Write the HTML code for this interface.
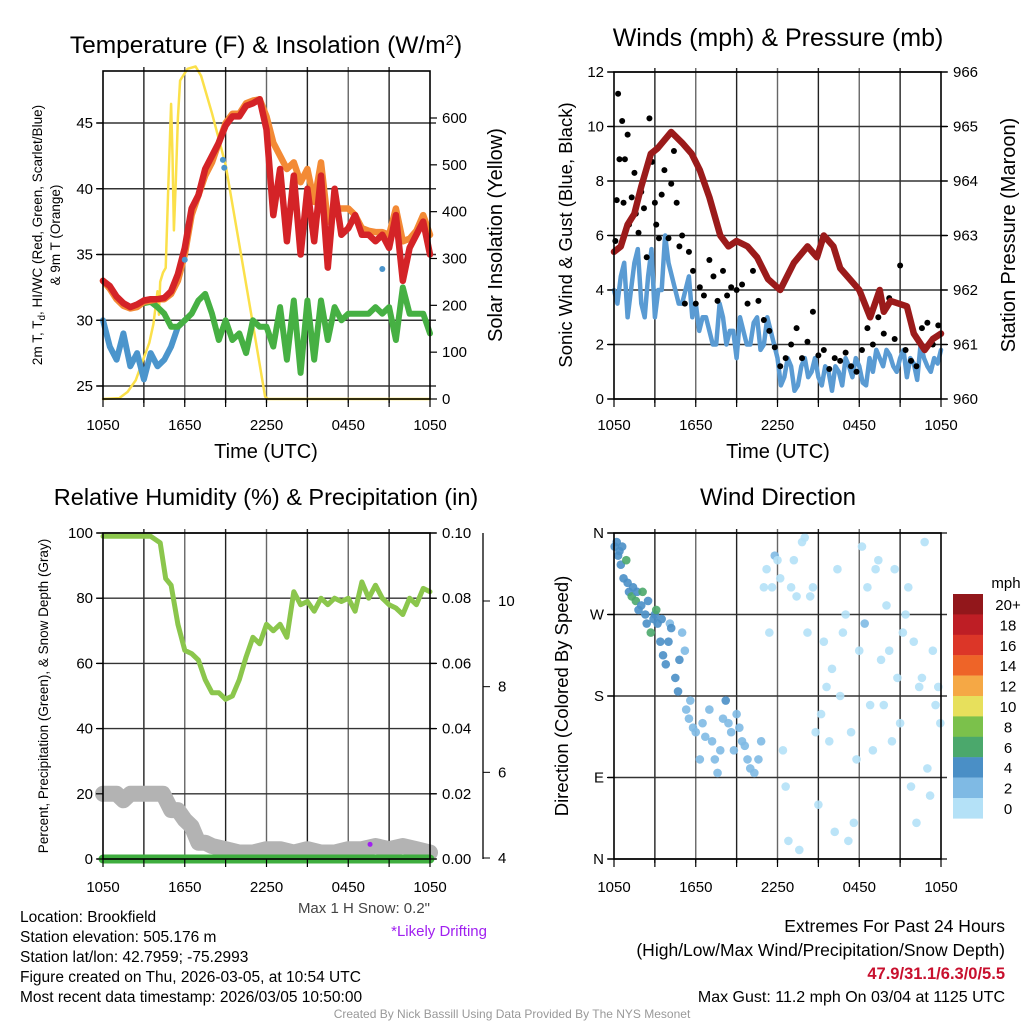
<!DOCTYPE html>
<html><head><meta charset="utf-8"><style>
html,body{margin:0;padding:0;background:#fff;}
svg text{font-family:"Liberation Sans",sans-serif;}
</style></head><body>
<svg id="svg" width="1024" height="1024" viewBox="0 0 1024 1024" xmlns="http://www.w3.org/2000/svg">
<rect width="1024" height="1024" fill="#fff"/>
<g id="bg"></g>
<g id="marks"></g>
<g id="axes"></g>
<text x="266" y="53" font-size="24.5" text-anchor="middle">Temperature (F) &amp; Insolation (W/m<tspan dy="-8" font-size="15">2</tspan><tspan dy="8">)</tspan></text>
<text x="778" y="46" font-size="25" text-anchor="middle">Winds (mph) &amp; Pressure (mb)</text>
<text x="266" y="505" font-size="23.5" text-anchor="middle">Relative Humidity (%) &amp; Precipitation (in)</text>
<text x="778" y="505" font-size="24" text-anchor="middle">Wind Direction</text>
<text transform="translate(42,235) rotate(-90)" font-size="13.5" text-anchor="middle">2m T, T<tspan font-size="10" dy="3">d</tspan><tspan dy="-3">, HI/WC (Red, Green, Scarlet/Blue)</tspan></text>
<text transform="translate(60,235) rotate(-90)" font-size="13.5" text-anchor="middle">&amp; 9m T (Orange)</text>
<text transform="translate(502,235) rotate(-90)" font-size="20" text-anchor="middle">Solar Insolation (Yellow)</text>
<text x="266" y="458" font-size="20" text-anchor="middle">Time (UTC)</text>
<text transform="translate(572,235) rotate(-90)" font-size="18.5" text-anchor="middle">Sonic Wind &amp; Gust (Blue, Black)</text>
<text transform="translate(1015,235) rotate(-90)" font-size="20" text-anchor="middle">Station Pressure (Maroon)</text>
<text x="778" y="458" font-size="20" text-anchor="middle">Time (UTC)</text>
<text transform="translate(48,696) rotate(-90)" font-size="13.5" text-anchor="middle">Percent, Precipitation (Green), &amp; Snow Depth (Gray)</text>
<text transform="translate(568,696) rotate(-90)" font-size="18.5" text-anchor="middle">Direction (Colored By Speed)</text>
<text x="430" y="913" font-size="15" text-anchor="end" fill="#444">Max 1 H Snow: 0.2"</text>
<text x="487" y="936" font-size="15" text-anchor="end" fill="#a020f0">*Likely Drifting</text>
<g font-size="15.5">
<text x="20" y="922">Location: Brookfield</text>
<text x="20" y="942">Station elevation: 505.176 m</text>
<text x="20" y="962">Station lat/lon: 42.7959; -75.2993</text>
<text x="20" y="982">Figure created on Thu, 2026-03-05, at 10:54 UTC</text>
<text x="20" y="1002">Most recent data timestamp: 2026/03/05 10:50:00</text>
</g>
<g font-size="17.5" text-anchor="end">
<text x="1005" y="932">Extremes For Past 24 Hours</text>
<text x="1005" y="956">(High/Low/Max Wind/Precipitation/Snow Depth)</text>
<text x="1005" y="979" fill="#c8102e" font-weight="bold" font-size="16.5">47.9/31.1/6.3/0/5.5</text>
<text x="1005" y="1002" font-size="16">Max Gust: 11.2 mph On 03/04 at 1125 UTC</text>
</g>
<text x="512" y="1018" font-size="12" text-anchor="middle" fill="#999">Created By Nick Bassill Using Data Provided By The NYS Mesonet</text>
<text x="1006" y="588" font-size="15" text-anchor="middle">mph</text>
<g id="legend"></g>
</svg>
<script>
// ---- data ----
const halfHours = Array.from({length:49},(_,i)=>i*0.5);
const tempRed = [33.0,32.6,31.8,31.3,31.0,31.2,31.5,31.6,31.6,31.7,32.2,33.5,35.5,38.5,39.5,41.5,42.5,43.5,44.8,45.5,45.5,46.3,46.5,46.8,44.5,38,41.5,36,41,35,40,36,41,34,40,36.5,37,38,36.5,36.5,36,36.5,35.5,38,33,35.5,36.5,37.5,35];
const temp9m  = [33.0,32.4,31.6,31.1,30.9,31.0,31.4,31.5,31.6,31.6,32.0,33.0,35.0,38.0,39.5,41.0,42.0,43.5,45.0,45.7,45.7,46.5,46.7,46.8,45.5,43.5,42.5,41.5,42,40.5,41.5,39,42,37.5,38.5,38.5,38.5,38,37,36.8,36.7,36.7,36.5,38.5,36,36.2,36.8,38,36.5];
const dewGreen = [33,32.5,31.8,31.2,31.0,31.2,31.3,31.4,31.0,30.5,29.5,29.5,30,30.5,31.5,32,30.5,28.5,30,28.5,29,27.5,30,29.5,29.5,28,31,27,31.5,26,31.5,27,31.5,28.5,31,30,30.5,30.5,30.5,30.5,31,30.5,31,28.5,32.5,30.5,30.5,30.5,29];
const windChillBlue = [30,28,27,29,26.5,27.5,25.5,27.5,26.5,27,28,29.5,30];
const insTimes = [0,1.2,1.8,2.4,2.9,3.4,3.7,4.0,4.1,4.2,4.4,4.6,4.8,5.0,5.1,5.2,5.35,5.5,5.66,6.2,6.8,7.2,8,9,10,11,11.9,12.1,24];
const insVals  = [0,2,15,40,80,120,160,230,180,250,270,280,460,630,520,360,470,600,680,705,710,690,610,500,330,160,5,0,0];
const sonicWind = [4,4.5,3,5,3.5,4.5,3,4,5,4,3.5,4.5,3.5,3,2.5,2,3,2.5,1.5,2.5,2,3,2,2.5,1.5,0.8,1.2,0.5,1.5,1,0.8,1.2,0.3,1,1.5,0.8,1.2,0.5,1,1.5,1.8,1.2,1.5,0.8,1.3,2,1.2,1.5,1.8];
const sonicWindMid = [3.5,5,4,5.5,3,5.5,4,6,4.5,3.5,4,3,2.5,3,2,3.5,2,2.5,3,2,2.8,1.8,3,2,0.5,1.5,0.3,1.2,0.8,1.5,0.5,1,1.2,0.5,1.2,1.5,0.6,1.5,1.8,1.2,1.6,1,1.8,1.5,0.7,1.5,1,1.3];
const gustT = [0.1,0.2,0.3,0.4,0.6,0.7,0.8,1.0,1.1,1.3,1.5,1.6,1.8,2.0,2.2,2.4,2.6,2.8,3.0,3.1,3.3,3.5,3.7,4.0,4.2,4.4,4.6,4.8,5.0,5.2,5.5,5.8,6.0,6.3,6.6,7.0,7.3,7.6,8.0,8.3,8.6,9.0,9.4,9.8,10.2,10.6,11.0,11.4,11.8,12.2,12.6,13.0,13.4,13.8,14.2,14.6,15.0,15.4,15.8,16.2,16.6,17.0,17.4,17.8,18.2,18.6,19.0,19.4,19.8,20.2,20.6,21.0,21.4,21.8,22.2,22.6,23.0,23.4,23.8];
const gustV = [5.8,7.3,11.2,8.8,10.2,7.2,8.8,9.7,6.4,7.4,8.3,6.8,6.1,7.6,7.0,5.2,10.3,8.7,7.2,6.4,5.9,7.5,8.4,5.9,7.9,9.1,7.2,5.6,6.0,3.5,5.4,4.7,3.5,4.1,3.8,5.1,4.5,3.6,4.7,3.8,4.1,4.0,4.2,3.5,4.7,3.6,2.9,2.5,1.9,1.2,1.5,2.0,2.6,1.5,2.1,3.2,1.6,1.8,1.1,1.5,1.4,1.7,1.2,1.0,1.8,2.6,2.0,3.0,2.4,3.7,2.2,4.9,1.8,1.4,1.2,2.6,2.8,2.0,2.7];
const presT = [0,0.5,1,1.5,2,2.7,3.2,4.2,5,5.7,6.3,7,7.8,8.4,9,9.8,10.5,11.3,12.2,13.2,14.2,14.9,15.4,16.1,16.6,18,18.8,19.5,19.8,20.3,21.5,22,22.8,23.4,24];
const presV = [962.7,962.8,963.2,963.4,963.9,964.5,964.6,964.9,964.7,964.5,964.2,963.7,963.0,962.8,962.9,962.8,962.6,962.2,962.0,962.5,962.8,962.6,963.0,962.8,962.4,962.0,961.5,962.0,961.6,961.8,961.7,961.2,960.9,961.1,961.2];
const rhT = [0,3.5,4.2,4.6,5.0,5.5,6.0,6.5,7.0,7.5,8.0,8.5,9.0,9.5,10.0,10.5,11.0,11.5,12.0,12.5,13.0,13.5,14.0,14.5,15.0,15.5,16.0,16.5,17.0,17.5,18.0,18.5,19.0,19.5,20.0,20.5,21.0,21.5,22.0,22.5,23.0,23.5,24];
const rhV = [99,99,97,86,84,72,64,63,61,55,51,51,49,50,55,62,68,66,72,70,72,68,82,78,79,76,80,78,80,79,80,76,85,80,84,80,78,77,75,80,78,83,82];
const snowT = [0,0.5,1,1.5,2,3,4,4.4,5,5.5,6,6.5,7,7.5,8,9,10,11,12,13,14,15,16,17,18,19,20,21,22,23,24];
const snowV = [20,20,20,18,20,20,20,20,15,15,12,10,5,5,4,3,2,2,3,3,2,3,2,2,3,3,4,3,4,3,2];
const dirT = [0.05,0.2,0.3,0.4,0.5,0.6,0.7,0.9,1.0,1.1,1.3,1.4,1.6,1.7,1.8,2.0,2.1,2.3,2.4,2.5,2.7,2.9,3.0,3.1,3.2,3.4,3.5,3.6,3.8,4.0,4.1,4.2,4.5,4.7,4.8,5.0,5.2,5.3,5.5,5.6,5.8,6.0,6.3,6.5,6.7,7.0,7.2,7.4,7.6,7.8,8.0,8.2,8.4,8.6,8.8,9.0,9.2,9.4,9.6,9.8,10.0,10.3,10.6,10.8,11.0,11.2,11.4,11.6,11.8,12.0,12.2,12.4,12.6,12.8,13.0,13.2,13.4,13.6,13.8,14.0,14.2,14.4,14.6,14.8,15.0,15.2,15.4,15.6,15.8,16.0,16.2,16.4,16.6,16.8,17.0,17.2,17.4,17.6,17.8,18.0,18.2,18.4,18.6,18.8,19.0,19.2,19.4,19.6,19.8,20.0,20.2,20.4,20.6,20.8,21.0,21.2,21.4,21.6,21.8,22.0,22.2,22.4,22.6,22.8,23.0,23.2,23.4,23.6,23.8,23.95];
const dirV = [345,350,335,340,325,345,310,330,305,295,290,300,285,295,275,280,295,270,260,285,250,265,270,275,260,240,265,225,215,240,260,255,200,185,220,250,230,165,155,175,145,140,110,150,135,165,130,110,95,120,155,175,150,140,120,160,145,130,125,110,100,95,110,130,300,320,250,300,335,330,310,120,80,20,300,330,290,10,350,355,250,290,300,140,60,160,240,190,130,210,30,320,180,250,270,20,140,40,110,230,345,260,300,170,120,320,330,220,170,280,230,130,320,200,150,250,270,300,80,240,40,190,200,350,100,70,230,170,190,150];
const dirS = [4,4,4,4,4,4,4,6,4,4,6,4,6,4,4,4,6,4,4,4,6,4,4,6,4,4,4,4,4,4,2,4,4,4,4,2,2,2,2,2,2,2,2,2,2,2,2,2,2,2,2,4,2,2,2,2,2,2,2,2,2,2,2,2,0,0,0,0,2,0,0,0,0,0,0,0,0,0,0,0,0,0,0,0,0,0,0,0,0,0,0,0,0,0,0,0,0,0,0,0,0,2,0,0,0,0,0,0,0,0,0,0,0,0,0,0,0,0,0,0,0,0,0,0,0,0,0,0,0,0];
const legendLabels = ["20+","18","16","14","12","10","8","6","4","2","0"];
const legendColors = ["#92171b","#be1e25","#dc3628","#ee6428","#f5a845","#e7e05c","#7bc14b","#4ba86c","#4a8fc6","#7fbae4","#b4e1f7"];
const timeLabels = ["1050","1650","2250","0450","1050"];

// ---- helpers ----
const NS="http://www.w3.org/2000/svg";
const bg=document.getElementById('bg'), marks=document.getElementById('marks'), axes=document.getElementById('axes');
function mk(tag,attrs,parent){const e=document.createElementNS(NS,tag);for(const k in attrs)e.setAttribute(k,attrs[k]);parent.appendChild(e);return e;}
function lin(d0,d1,r0,r1){return v=>r0+(v-d0)*(r1-r0)/(d1-d0);}
function path(xs,ys,xf,yf,color,w,name){
  let d='';for(let i=0;i<xs.length;i++)d+=(i?'L':'M')+xf(xs[i]).toFixed(1)+','+yf(ys[i]).toFixed(1);
  const p=mk('path',{d:d,fill:'none',stroke:color,'stroke-width':w,'stroke-linejoin':'round','stroke-linecap':'round'},marks);
  
  
  return p;
}
function txt(x,y,s,size,anchor,parent){const t=mk('text',{x:x,y:y,'font-size':size,'text-anchor':anchor},parent);t.textContent=s;return t;}

const panels=[{x0:103,x1:430,y0:71,y1:399},{x0:614,x1:941,y0:72,y1:399},{x0:103,x1:430,y0:533,y1:859},{x0:614,x1:941,y0:533,y1:859}];
panels.forEach((p,pi)=>{
  const xf=lin(0,24,p.x0,p.x1);
  for(let h=3;h<24;h+=3){const l=mk('line',{x1:xf(h),x2:xf(h),y1:p.y0-4,y2:p.y1+4,stroke:(h%6===0?'#666':'#222'),'stroke-width':1.4},bg);
    }
  const fr=mk('rect',{x:p.x0,y:p.y0,width:p.x1-p.x0,height:p.y1-p.y0,fill:'none',stroke:'#000','stroke-width':1.6},axes);
  
  timeLabels.forEach((s,i)=>{const t=txt(xf(i*6),430,s,15,'middle',axes);
    if(pi>=2)t.setAttribute('y',892);});
  for(let h=0;h<=24;h+=3){mk('line',{x1:xf(h),x2:xf(h),y1:p.y1,y2:p.y1+8,stroke:'#000','stroke-width':1.2},axes);}
});
function yAxis(p,vals,yf,side,labelFmt,gridColor,offset){
  vals.forEach(v=>{const y=yf(v);
    if(gridColor){const g=mk('line',{x1:p.x0-6,x2:p.x1+6,y1:y,y2:y,stroke:gridColor,'stroke-width':1.4},bg);}
    const x=side==='l'?p.x0:p.x1;
    mk('line',{x1:x,x2:side==='l'?x-7:x+7,y1:y,y2:y,stroke:'#000','stroke-width':1.2},axes);
    const t=txt(side==='l'?x-10:x+(offset||12),y+5,labelFmt(v),15,side==='l'?'end':'start',axes);
    
  });
}
// Panel 1
const P1=panels[0], x1f=lin(0,24,P1.x0,P1.x1), y1f=lin(25,45,386,123), y1r=lin(0,600,399,118);
yAxis(P1,[25,30,35,40,45],y1f,'l',v=>v,'#333');
yAxis(P1,[0,100,200,300,400,500,600],y1r,'r',v=>v,null);
path(insTimes,insVals,x1f,y1r,'#fbe04a',2.5,'insolation-line');
path(halfHours.slice(0,13),windChillBlue,x1f,y1f,'#4b95cc',6,'wind-chill-line');
path(halfHours,dewGreen,x1f,y1f,'#46b043',6,'dewpoint-line');
path(halfHours,temp9m,x1f,y1f,'#f38a35',6.5,'temp-9m-line');
path(halfHours,tempRed,x1f,y1f,'#d42327',6.5,'temp-2m-line');
[[6,34.6],[8.8,42.2],[8.9,41.6],[20.5,33.9]].forEach(d=>{const c=mk('circle',{cx:x1f(d[0]),cy:y1f(d[1]),r:3,fill:'#4b95cc'},marks);});
// Panel 2
const P2=panels[1], x2f=lin(0,24,P2.x0,P2.x1), y2f=lin(0,12,399,72), y2r=lin(960,966,399,72);
yAxis(P2,[0,2,4,6,8,10,12],y2f,'l',v=>v,'#333');
yAxis(P2,[960,961,962,963,964,965,966],y2r,'r',v=>v,null);
const quarter=[];const sw=[];for(let i=0;i<48;i++){quarter.push(i*0.5);sw.push(sonicWind[i]);quarter.push(i*0.5+0.25);sw.push(sonicWindMid[i]);}
quarter.push(24);sw.push(sonicWind[48]);
path(quarter,sw,x2f,y2f,'#5a9bd3',4.5,'sonic-wind-line');
gustT.forEach((t,i)=>{const c=mk('circle',{cx:x2f(t),cy:y2f(gustV[i]),r:3,fill:'#000'},marks);});
path(presT,presV,x2f,y2r,'#9b1b1b',6.5,'pressure-line');
// Panel 3
const P3=panels[2], x3f=lin(0,24,P3.x0,P3.x1), y3f=lin(0,100,859,533), y3r=lin(0,0.1,859,533), y3s=lin(4,10,858,601);
yAxis(P3,[0,20,40,60,80,100],y3f,'l',v=>v,'#333');
yAxis(P3,[0,0.02,0.04,0.06,0.08,0.10],y3r,'r',v=>v.toFixed(2),null);
mk('line',{x1:483,x2:483,y1:533,y2:859,stroke:'#000','stroke-width':1.3},axes);
[4,6,8,10].forEach(v=>{mk('line',{x1:483,x2:490,y1:y3s(v),y2:y3s(v),stroke:'#000'},axes);const t=txt(498,y3s(v)+5,v,15,'start',axes);});
path(snowT,snowV,x3f,y3f,'#b3b3b3',16,'snow-depth-line');
path([0,24],[0,0],x3f,y3r,'#3fae3f',9,'precip-line');
path(rhT,rhV,x3f,y3f,'#8bc64c',5,'rh-line');
{const c=mk('circle',{cx:x3f(19.6),cy:y3f(4.5),r:2.5,fill:'#a020f0'},marks);}
// Panel 4
const P4=panels[3], x4f=lin(0,24,P4.x0,P4.x1), y4f=lin(0,360,859,533);
yAxis(P4,[0,90,180,270,360],y4f,'l',v=>({0:'N',90:'E',180:'S',270:'W',360:'N'})[v],'#333');
function spdColor(s){const idx=Math.min(10,Math.floor(s/2+0.5));return legendColors[10-idx];}
dirT.forEach((t,i)=>{const c=mk('circle',{cx:x4f(t),cy:y4f(dirV[i]),r:4.3,fill:spdColor(dirS[i]),'fill-opacity':0.9},marks);
  });
// Legend
const lg=document.getElementById('legend');
legendLabels.forEach((s,i)=>{const y=594+i*20.4;
  const r=mk('rect',{x:953,y:y,width:30,height:20.6,fill:legendColors[i]},lg);
  
  const t=txt(1008,y+16,s,15,'middle',lg);
});
</script>
</body></html>
